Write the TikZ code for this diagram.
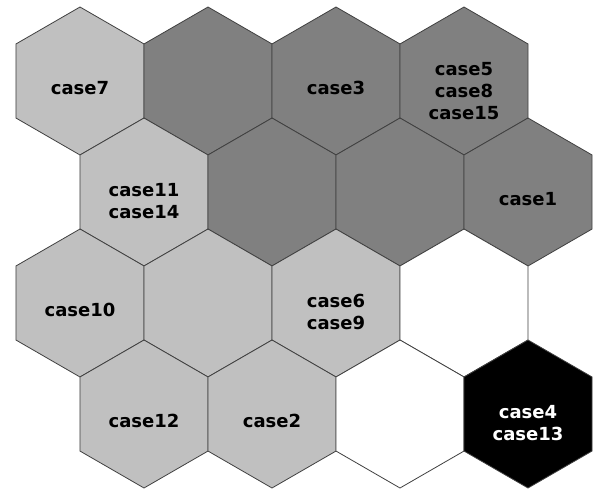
\documentclass[tikz,border=0pt]{standalone}
\usepackage{fontspec}
\setmainfont{DejaVu Sans}
\usetikzlibrary{shapes.geometric}
\definecolor{lightcell}{HTML}{C0C0C0}
\definecolor{darkcell}{HTML}{808080}
\definecolor{cellline}{HTML}{404040}
\tikzset{
    hexcell/.style={draw=cellline, line width=0.8pt, regular polygon, regular polygon sides=6,
        shape border rotate=30, minimum size=148pt, inner sep=0pt},
    celltext/.style={align=center, font=\bfseries\fontsize{18}{22}\selectfont, yshift=-7pt},
}
\begin{document}
\begin{tikzpicture}[x=1pt, y=-1pt]
    \useasboundingbox (0,0) rectangle (595,493);

    % row 1
    \node[hexcell, fill=lightcell] (r1c1) at (80,81) {};
    \node[hexcell, fill=darkcell] (r1c2) at (208,81) {};
    \node[hexcell, fill=darkcell] (r1c3) at (336,81) {};
    \node[hexcell, fill=darkcell] (r1c4) at (464,81) {};

    % row 2
    \node[hexcell, fill=lightcell] (r2c1) at (144,192) {};
    \node[hexcell, fill=darkcell] (r2c2) at (272,192) {};
    \node[hexcell, fill=darkcell] (r2c3) at (400,192) {};
    \node[hexcell, fill=darkcell] (r2c4) at (528,192) {};

    % row 3
    \node[hexcell, fill=lightcell] (r3c1) at (80,303) {};
    \node[hexcell, fill=lightcell] (r3c2) at (208,303) {};
    \node[hexcell, fill=lightcell] (r3c3) at (336,303) {};
    \node[hexcell, fill=white] (r3c4) at (464,303) {};

    % row 4
    \node[hexcell, fill=lightcell] (r4c1) at (144,414) {};
    \node[hexcell, fill=lightcell] (r4c2) at (272,414) {};
    \node[hexcell, fill=white] (r4c3) at (400,414) {};
    \node[hexcell, fill=black] (r4c4) at (528,414) {};

    % labels
    \node[celltext] (case7) at (r1c1) {case7};
    \node[celltext] (case3) at (r1c3) {case3};
    \node[celltext, yshift=-3pt] (case5) at (r1c4) {case5\\case8\\case15};
    \node[celltext, yshift=-2pt] (case11) at (r2c1) {case11\\case14};
    \node[celltext] (case1) at (r2c4) {case1};
    \node[celltext] (case10) at (r3c1) {case10};
    \node[celltext, yshift=-2pt] (case6) at (r3c3) {case6\\case9};
    \node[celltext] (case12) at (r4c1) {case12};
    \node[celltext] (case2) at (r4c2) {case2};
    \node[celltext, yshift=-2pt, text=white] (case4) at (r4c4) {case4\\case13};

\end{tikzpicture}
\end{document}
